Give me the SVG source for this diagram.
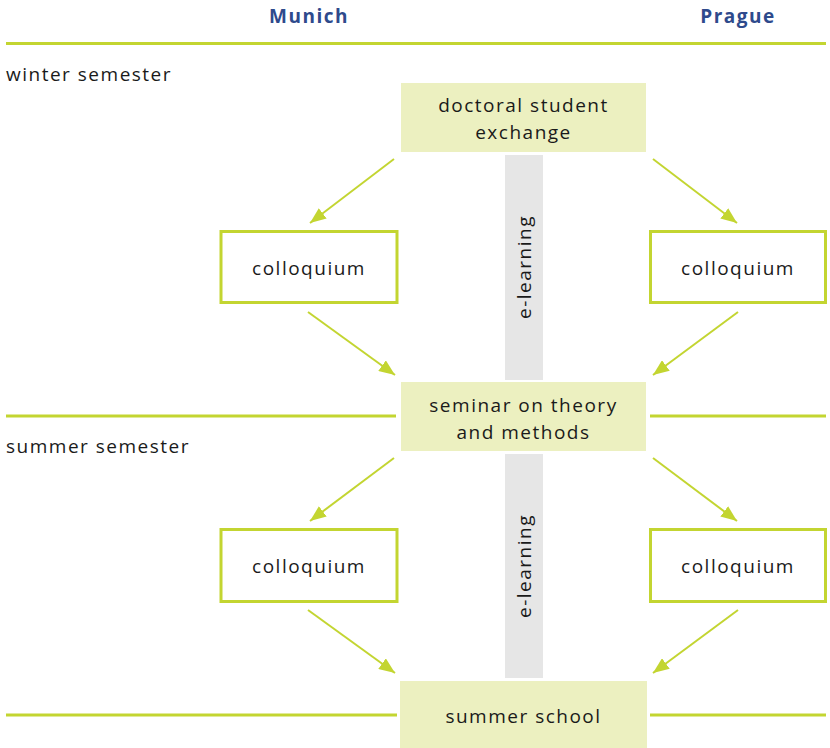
<svg xmlns="http://www.w3.org/2000/svg" width="830" height="748" viewBox="0 0 830 748">
<style>
.t{font-family:"Open Sans","Noto Sans",sans-serif;font-size:19px;fill:#1a1a1a;letter-spacing:1.5px}
.h{font-family:"Open Sans","Noto Sans",sans-serif;font-size:19px;font-weight:bold;fill:#2e4a8c;letter-spacing:1.5px}
.fill{fill:#ecf0c0}
.out{fill:#fff;stroke:#c3d531;stroke-width:3}
.bar{fill:#e6e6e6}
.rule{stroke:#c3d531;stroke-width:3;fill:none}
.con{stroke:#c3d531;stroke-width:2;fill:none;marker-end:url(#ah)}
</style>
<defs>
<marker id="ah" viewBox="0 0 16 13" refX="16" refY="6.5" markerWidth="16" markerHeight="13" markerUnits="userSpaceOnUse" orient="auto">
<path d="M0,0 L16,6.5 L0,13 z" fill="#c3d531"/>
</marker>
</defs>
<g id="headers">
<text class="h" x="309" y="23" text-anchor="middle">Munich</text>
<text class="h" x="738" y="23" text-anchor="middle">Prague</text>
<text class="t" x="6" y="81">winter semester</text>
<text class="t" x="6" y="453">summer semester</text>
</g>
<g id="rules">
<line class="rule" x1="6" y1="43.5" x2="826" y2="43.5"/>
<line class="rule" x1="6" y1="416" x2="396" y2="416"/>
<line class="rule" x1="650" y1="416" x2="826" y2="416"/>
<line class="rule" x1="6" y1="715" x2="397" y2="715"/>
<line class="rule" x1="650" y1="715" x2="826" y2="715"/>
</g>
<g id="elearning1">
<rect class="bar" x="505" y="155" width="38" height="225"/>
<text class="t" transform="translate(531,267) rotate(-90)" text-anchor="middle">e-learning</text>
</g>
<g id="elearning2">
<rect class="bar" x="505" y="454" width="38" height="224"/>
<text class="t" transform="translate(531,566) rotate(-90)" text-anchor="middle">e-learning</text>
</g>
<g id="doctoral">
<rect class="fill" x="401" y="83" width="245" height="69"/>
<text class="t" x="523.5" y="112" text-anchor="middle">doctoral student</text>
<text class="t" x="523.5" y="139" text-anchor="middle">exchange</text>
</g>
<g id="colloquium1L">
<rect class="out" x="221" y="231.5" width="176" height="71"/>
<text class="t" x="309" y="275" text-anchor="middle">colloquium</text>
</g>
<g id="colloquium1R">
<rect class="out" x="650.5" y="231.5" width="175" height="71"/>
<text class="t" x="738" y="275" text-anchor="middle">colloquium</text>
</g>
<g id="seminar">
<rect class="fill" x="401" y="382" width="245" height="69"/>
<text class="t" x="523.5" y="412" text-anchor="middle">seminar on theory</text>
<text class="t" x="523.5" y="439" text-anchor="middle">and methods</text>
</g>
<g id="colloquium2L">
<rect class="out" x="221" y="529.5" width="176" height="72"/>
<text class="t" x="309" y="573" text-anchor="middle">colloquium</text>
</g>
<g id="colloquium2R">
<rect class="out" x="650.5" y="529.5" width="175" height="72"/>
<text class="t" x="738" y="573" text-anchor="middle">colloquium</text>
</g>
<g id="summerschool">
<rect class="fill" x="400" y="681" width="247" height="67"/>
<text class="t" x="523.5" y="723" text-anchor="middle">summer school</text>
</g>
<g id="connectors">
<line class="con" x1="394" y1="159" x2="310" y2="223"/>
<line class="con" x1="653" y1="159" x2="737" y2="223"/>
<line class="con" x1="308" y1="312" x2="395" y2="375"/>
<line class="con" x1="738" y1="312" x2="653" y2="375"/>
<line class="con" x1="394" y1="458" x2="310" y2="521"/>
<line class="con" x1="653" y1="458" x2="737" y2="521"/>
<line class="con" x1="308" y1="610" x2="395" y2="673"/>
<line class="con" x1="738" y1="610" x2="653" y2="673"/>
</g>
</svg>
